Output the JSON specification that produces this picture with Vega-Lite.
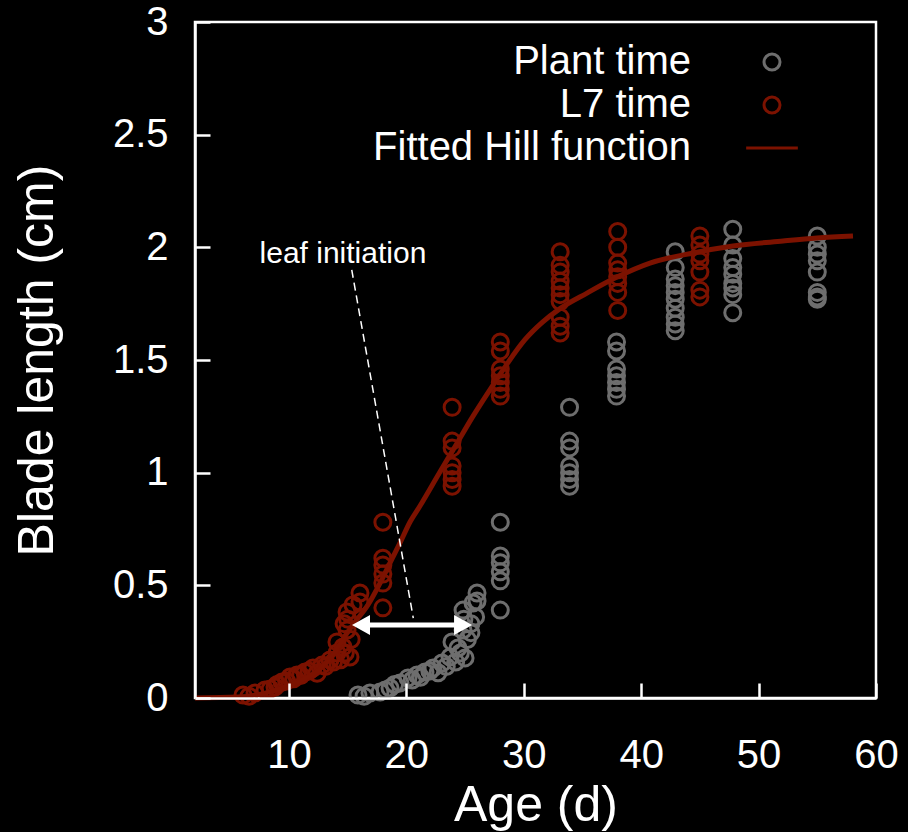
{
  "$schema": "https://vega.github.io/schema/vega-lite/v6.json",
  "width": 681,
  "height": 676,
  "autosize": {"type": "none"},
  "padding": {"left": 195, "top": 22, "right": 32, "bottom": 134},
  "background": "black",
  "config": {
    "view": {"stroke": "white", "strokeWidth": 2.5},
    "font": "Liberation Sans",
    "legend": {
      "title": null, "orient": "none", "legendX": 557, "legendY": 20,
      "padding": 0, "rowPadding": 3,
      "labelFont": "Liberation Sans", "labelFontSize": 40, "labelColor": "white",
      "labelAlign": "right", "labelLimit": 600, "labelOffset": -101,
      "symbolOffset": 0, "symbolFillColor": "transparent"
    }
  },
  "datasets": {
    "points": [
      {"series": "Plant time", "age": 15.88, "length": 0.013},
      {"series": "Plant time", "age": 16.4, "length": 0.008},
      {"series": "Plant time", "age": 16.9, "length": 0.022},
      {"series": "Plant time", "age": 17.76, "length": 0.027},
      {"series": "Plant time", "age": 18.2, "length": 0.035},
      {"series": "Plant time", "age": 18.61, "length": 0.044},
      {"series": "Plant time", "age": 19.0, "length": 0.06},
      {"series": "Plant time", "age": 19.46, "length": 0.067},
      {"series": "Plant time", "age": 20.14, "length": 0.089},
      {"series": "Plant time", "age": 20.5, "length": 0.08},
      {"series": "Plant time", "age": 20.91, "length": 0.102},
      {"series": "Plant time", "age": 21.2, "length": 0.092},
      {"series": "Plant time", "age": 21.59, "length": 0.115},
      {"series": "Plant time", "age": 22.0, "length": 0.12},
      {"series": "Plant time", "age": 22.27, "length": 0.133},
      {"series": "Plant time", "age": 22.7, "length": 0.112},
      {"series": "Plant time", "age": 23.04, "length": 0.155},
      {"series": "Plant time", "age": 23.4, "length": 0.14},
      {"series": "Plant time", "age": 23.72, "length": 0.182},
      {"series": "Plant time", "age": 23.89, "length": 0.249},
      {"series": "Plant time", "age": 24.2, "length": 0.16},
      {"series": "Plant time", "age": 24.4, "length": 0.222},
      {"series": "Plant time", "age": 24.6, "length": 0.2},
      {"series": "Plant time", "age": 25.0, "length": 0.178},
      {"series": "Plant time", "age": 24.83, "length": 0.302},
      {"series": "Plant time", "age": 24.9, "length": 0.35},
      {"series": "Plant time", "age": 24.83, "length": 0.39},
      {"series": "Plant time", "age": 25.2, "length": 0.26},
      {"series": "Plant time", "age": 25.5, "length": 0.29},
      {"series": "Plant time", "age": 25.5, "length": 0.33},
      {"series": "Plant time", "age": 25.68, "length": 0.422},
      {"series": "Plant time", "age": 25.9, "length": 0.36},
      {"series": "Plant time", "age": 26.02, "length": 0.466},
      {"series": "Plant time", "age": 26.02, "length": 0.43},
      {"series": "Plant time", "age": 28.0, "length": 0.78},
      {"series": "Plant time", "age": 28.0, "length": 0.63},
      {"series": "Plant time", "age": 28.0, "length": 0.6},
      {"series": "Plant time", "age": 28.0, "length": 0.56},
      {"series": "Plant time", "age": 28.0, "length": 0.52},
      {"series": "Plant time", "age": 28.0, "length": 0.39},
      {"series": "Plant time", "age": 33.9, "length": 1.29},
      {"series": "Plant time", "age": 33.9, "length": 1.14},
      {"series": "Plant time", "age": 33.9, "length": 1.11},
      {"series": "Plant time", "age": 33.9, "length": 1.03},
      {"series": "Plant time", "age": 33.9, "length": 1.0},
      {"series": "Plant time", "age": 33.9, "length": 0.97},
      {"series": "Plant time", "age": 33.9, "length": 0.94},
      {"series": "Plant time", "age": 37.9, "length": 1.58},
      {"series": "Plant time", "age": 37.9, "length": 1.54},
      {"series": "Plant time", "age": 37.9, "length": 1.46},
      {"series": "Plant time", "age": 37.9, "length": 1.43},
      {"series": "Plant time", "age": 37.9, "length": 1.4},
      {"series": "Plant time", "age": 37.9, "length": 1.37},
      {"series": "Plant time", "age": 37.9, "length": 1.34},
      {"series": "Plant time", "age": 42.9, "length": 1.98},
      {"series": "Plant time", "age": 42.9, "length": 1.91},
      {"series": "Plant time", "age": 42.9, "length": 1.86},
      {"series": "Plant time", "age": 42.9, "length": 1.83},
      {"series": "Plant time", "age": 42.9, "length": 1.8},
      {"series": "Plant time", "age": 42.9, "length": 1.77},
      {"series": "Plant time", "age": 42.9, "length": 1.73},
      {"series": "Plant time", "age": 42.9, "length": 1.69},
      {"series": "Plant time", "age": 42.9, "length": 1.66},
      {"series": "Plant time", "age": 42.9, "length": 1.63},
      {"series": "Plant time", "age": 47.8, "length": 2.08},
      {"series": "Plant time", "age": 47.8, "length": 2.01},
      {"series": "Plant time", "age": 47.8, "length": 1.95},
      {"series": "Plant time", "age": 47.8, "length": 1.91},
      {"series": "Plant time", "age": 47.8, "length": 1.88},
      {"series": "Plant time", "age": 47.8, "length": 1.84},
      {"series": "Plant time", "age": 47.8, "length": 1.82},
      {"series": "Plant time", "age": 47.8, "length": 1.79},
      {"series": "Plant time", "age": 47.8, "length": 1.71},
      {"series": "Plant time", "age": 55.0, "length": 2.05},
      {"series": "Plant time", "age": 55.0, "length": 2.0},
      {"series": "Plant time", "age": 55.0, "length": 1.97},
      {"series": "Plant time", "age": 55.0, "length": 1.94},
      {"series": "Plant time", "age": 55.0, "length": 1.89},
      {"series": "Plant time", "age": 55.0, "length": 1.8},
      {"series": "Plant time", "age": 55.0, "length": 1.78},
      {"series": "Plant time", "age": 55.0, "length": 1.77},
      {"series": "L7 time", "age": 6.09, "length": 0.013},
      {"series": "L7 time", "age": 6.6, "length": 0.008},
      {"series": "L7 time", "age": 7.11, "length": 0.022},
      {"series": "L7 time", "age": 7.96, "length": 0.036},
      {"series": "L7 time", "age": 8.4, "length": 0.04},
      {"series": "L7 time", "age": 8.81, "length": 0.049},
      {"series": "L7 time", "age": 9.0, "length": 0.06},
      {"series": "L7 time", "age": 9.41, "length": 0.071},
      {"series": "L7 time", "age": 9.8, "length": 0.075},
      {"series": "L7 time", "age": 10.09, "length": 0.093},
      {"series": "L7 time", "age": 10.4, "length": 0.085},
      {"series": "L7 time", "age": 10.69, "length": 0.102},
      {"series": "L7 time", "age": 11.0, "length": 0.1},
      {"series": "L7 time", "age": 11.37, "length": 0.115},
      {"series": "L7 time", "age": 11.7, "length": 0.12},
      {"series": "L7 time", "age": 12.05, "length": 0.133},
      {"series": "L7 time", "age": 12.4, "length": 0.11},
      {"series": "L7 time", "age": 12.82, "length": 0.146},
      {"series": "L7 time", "age": 13.1, "length": 0.14},
      {"series": "L7 time", "age": 13.5, "length": 0.169},
      {"series": "L7 time", "age": 13.8, "length": 0.16},
      {"series": "L7 time", "age": 14.09, "length": 0.2},
      {"series": "L7 time", "age": 14.09, "length": 0.249},
      {"series": "L7 time", "age": 14.4, "length": 0.17},
      {"series": "L7 time", "age": 14.61, "length": 0.226},
      {"series": "L7 time", "age": 14.8, "length": 0.2},
      {"series": "L7 time", "age": 15.2, "length": 0.182},
      {"series": "L7 time", "age": 14.95, "length": 0.302},
      {"series": "L7 time", "age": 14.7, "length": 0.33},
      {"series": "L7 time", "age": 15.0, "length": 0.35},
      {"series": "L7 time", "age": 14.95, "length": 0.382},
      {"series": "L7 time", "age": 15.3, "length": 0.26},
      {"series": "L7 time", "age": 15.46, "length": 0.413},
      {"series": "L7 time", "age": 16.05, "length": 0.466},
      {"series": "L7 time", "age": 16.05, "length": 0.426},
      {"series": "L7 time", "age": 18.0, "length": 0.78},
      {"series": "L7 time", "age": 18.0, "length": 0.62},
      {"series": "L7 time", "age": 18.0, "length": 0.59},
      {"series": "L7 time", "age": 18.0, "length": 0.55},
      {"series": "L7 time", "age": 18.0, "length": 0.51},
      {"series": "L7 time", "age": 18.0, "length": 0.4},
      {"series": "L7 time", "age": 23.9, "length": 1.29},
      {"series": "L7 time", "age": 23.9, "length": 1.14},
      {"series": "L7 time", "age": 23.9, "length": 1.11},
      {"series": "L7 time", "age": 23.9, "length": 1.03},
      {"series": "L7 time", "age": 23.9, "length": 1.0},
      {"series": "L7 time", "age": 23.9, "length": 0.97},
      {"series": "L7 time", "age": 23.9, "length": 0.94},
      {"series": "L7 time", "age": 28.0, "length": 1.58},
      {"series": "L7 time", "age": 28.0, "length": 1.54},
      {"series": "L7 time", "age": 28.0, "length": 1.46},
      {"series": "L7 time", "age": 28.0, "length": 1.43},
      {"series": "L7 time", "age": 28.0, "length": 1.4},
      {"series": "L7 time", "age": 28.0, "length": 1.37},
      {"series": "L7 time", "age": 28.0, "length": 1.34},
      {"series": "L7 time", "age": 33.1, "length": 1.98},
      {"series": "L7 time", "age": 33.1, "length": 1.92},
      {"series": "L7 time", "age": 33.1, "length": 1.89},
      {"series": "L7 time", "age": 33.1, "length": 1.85},
      {"series": "L7 time", "age": 33.1, "length": 1.82},
      {"series": "L7 time", "age": 33.1, "length": 1.79},
      {"series": "L7 time", "age": 33.1, "length": 1.76},
      {"series": "L7 time", "age": 33.1, "length": 1.69},
      {"series": "L7 time", "age": 33.1, "length": 1.65},
      {"series": "L7 time", "age": 33.1, "length": 1.62},
      {"series": "L7 time", "age": 38.0, "length": 2.07},
      {"series": "L7 time", "age": 38.0, "length": 2.0},
      {"series": "L7 time", "age": 38.0, "length": 1.93},
      {"series": "L7 time", "age": 38.0, "length": 1.9},
      {"series": "L7 time", "age": 38.0, "length": 1.87},
      {"series": "L7 time", "age": 38.0, "length": 1.84},
      {"series": "L7 time", "age": 38.0, "length": 1.8},
      {"series": "L7 time", "age": 38.0, "length": 1.72},
      {"series": "L7 time", "age": 45.0, "length": 2.05},
      {"series": "L7 time", "age": 45.0, "length": 2.01},
      {"series": "L7 time", "age": 45.0, "length": 1.97},
      {"series": "L7 time", "age": 45.0, "length": 1.94},
      {"series": "L7 time", "age": 45.0, "length": 1.89},
      {"series": "L7 time", "age": 45.0, "length": 1.81},
      {"series": "L7 time", "age": 45.0, "length": 1.78}
    ],
    "fit": [
      {"age": 2.0, "length": 0.0},
      {"age": 5.66, "length": 0.004},
      {"age": 8.39, "length": 0.027},
      {"age": 10.94, "length": 0.075},
      {"age": 12.65, "length": 0.129},
      {"age": 13.92, "length": 0.204},
      {"age": 14.78, "length": 0.275},
      {"age": 15.63, "length": 0.337},
      {"age": 16.73, "length": 0.413},
      {"age": 17.76, "length": 0.51},
      {"age": 18.61, "length": 0.6},
      {"age": 19.46, "length": 0.688},
      {"age": 20.31, "length": 0.781},
      {"age": 21.16, "length": 0.852},
      {"age": 22.87, "length": 1.004},
      {"age": 23.97, "length": 1.1},
      {"age": 25.68, "length": 1.251},
      {"age": 27.38, "length": 1.389},
      {"age": 28.57, "length": 1.482},
      {"age": 30.1, "length": 1.59},
      {"age": 31.6, "length": 1.668},
      {"age": 33.09, "length": 1.728},
      {"age": 35.39, "length": 1.797},
      {"age": 37.94, "length": 1.868},
      {"age": 40.75, "length": 1.93},
      {"age": 44.41, "length": 1.975},
      {"age": 47.82, "length": 2.006},
      {"age": 52.08, "length": 2.028},
      {"age": 54.98, "length": 2.041},
      {"age": 58.04, "length": 2.05}
    ],
    "note": [{"age": 14.6, "length": 1.93, "text": "leaf initiation"}],
    "dash": [{"age": 15.35, "length": 1.9, "age2": 20.59, "length2": 0.355}],
    "arrow": [{"age": 16.14, "length": 0.324, "age2": 24.83}],
    "heads": [
      {"age": 16.14, "length": 0.324, "dir": "left"},
      {"age": 24.83, "length": 0.324, "dir": "right"}
    ]
  },
  "layer": [
    {
      "data": {"name": "points"},
      "mark": {"type": "point", "filled": false, "opacity": 1},
      "encoding": {
        "x": {
          "field": "age", "type": "quantitative",
          "scale": {"domain": [2, 60], "nice": false, "zero": false},
          "axis": {
            "values": [10, 20, 30, 40, 50, 60],
            "grid": false, "domain": true, "domainColor": "white", "domainWidth": 2.5,
            "tickColor": "white", "tickWidth": 2.5, "tickSize": -15,
            "labelColor": "white", "labelFont": "Liberation Sans", "labelFontSize": 40,
            "labelPadding": 52, "labelFlush": false, "labelOverlap": false,
            "title": "Age (d)", "titleColor": "white", "titleFont": "Liberation Sans",
            "titleFontSize": 50, "titleFontWeight": "normal",
            "titleBaseline": "alphabetic", "titleY": 122, "zindex": 1
          }
        },
        "y": {
          "field": "length", "type": "quantitative",
          "scale": {"domain": [0, 3], "nice": false},
          "axis": {
            "values": [0, 0.5, 1, 1.5, 2, 2.5, 3], "format": "~g",
            "grid": false, "domain": true, "domainColor": "white", "domainWidth": 2.5,
            "tickColor": "white", "tickWidth": 2.5, "tickSize": -15,
            "labelColor": "white", "labelFont": "Liberation Sans", "labelFontSize": 40,
            "labelPadding": 42, "labelFlush": false, "labelOverlap": false,
            "title": "Blade length (cm)", "titleColor": "white", "titleFont": "Liberation Sans",
            "titleFontSize": 50, "titleFontWeight": "normal",
            "titleBaseline": "alphabetic", "titleX": -143, "zindex": 1
          }
        },
        "shape": {
          "field": "series", "type": "nominal",
          "scale": {"domain": ["Plant time", "L7 time", "Fitted Hill function"], "range": ["circle", "circle", "M-3.23,0H3.23"]}
        },
        "size": {
          "field": "series", "type": "nominal",
          "scale": {"domain": ["Plant time", "L7 time", "Fitted Hill function"], "range": [256, 256, 1225]}
        },
        "strokeWidth": {
          "field": "series", "type": "nominal",
          "scale": {"domain": ["Plant time", "L7 time", "Fitted Hill function"], "range": [3, 3, 5]}
        },
        "color": {
          "field": "series", "type": "nominal",
          "scale": {"domain": ["Plant time", "L7 time", "Fitted Hill function"], "range": ["#6e6e6e", "#7c1200", "#7c1200"]}
        }
      }
    },
    {
      "data": {"name": "fit"},
      "mark": {"type": "line", "strokeWidth": 5, "interpolate": "monotone"},
      "encoding": {
        "x": {"field": "age", "type": "quantitative"},
        "y": {"field": "length", "type": "quantitative"},
        "color": {"datum": "Fitted Hill function"}
      }
    },
    {
      "data": {"name": "dash"},
      "mark": {"type": "rule", "color": "white", "strokeWidth": 1.5, "strokeDash": [8, 5]},
      "encoding": {
        "x": {"field": "age", "type": "quantitative"},
        "y": {"field": "length", "type": "quantitative"},
        "x2": {"field": "age2"},
        "y2": {"field": "length2"}
      }
    },
    {
      "data": {"name": "arrow"},
      "mark": {"type": "rule", "color": "white", "strokeWidth": 5},
      "encoding": {
        "x": {"field": "age", "type": "quantitative"},
        "y": {"field": "length", "type": "quantitative"},
        "x2": {"field": "age2"}
      }
    },
    {
      "data": {"name": "heads"},
      "transform": [{"filter": "datum.dir === 'left'"}],
      "mark": {"type": "point", "filled": true, "color": "white", "opacity": 1, "size": 324, "strokeWidth": 0, "shape": "M-1,0L1,-1.1L1,1.1Z"},
      "encoding": {
        "x": {"field": "age", "type": "quantitative"},
        "y": {"field": "length", "type": "quantitative"}
      }
    },
    {
      "data": {"name": "heads"},
      "transform": [{"filter": "datum.dir === 'right'"}],
      "mark": {"type": "point", "filled": true, "color": "white", "opacity": 1, "size": 324, "strokeWidth": 0, "shape": "M1,0L-1,-1.1L-1,1.1Z"},
      "encoding": {
        "x": {"field": "age", "type": "quantitative"},
        "y": {"field": "length", "type": "quantitative"}
      }
    },
    {
      "data": {"name": "note"},
      "mark": {"type": "text", "color": "white", "font": "Liberation Sans", "fontSize": 30, "align": "center", "baseline": "alphabetic"},
      "encoding": {
        "x": {"field": "age", "type": "quantitative"},
        "y": {"field": "length", "type": "quantitative"},
        "text": {"field": "text"}
      }
    }
  ]
}
